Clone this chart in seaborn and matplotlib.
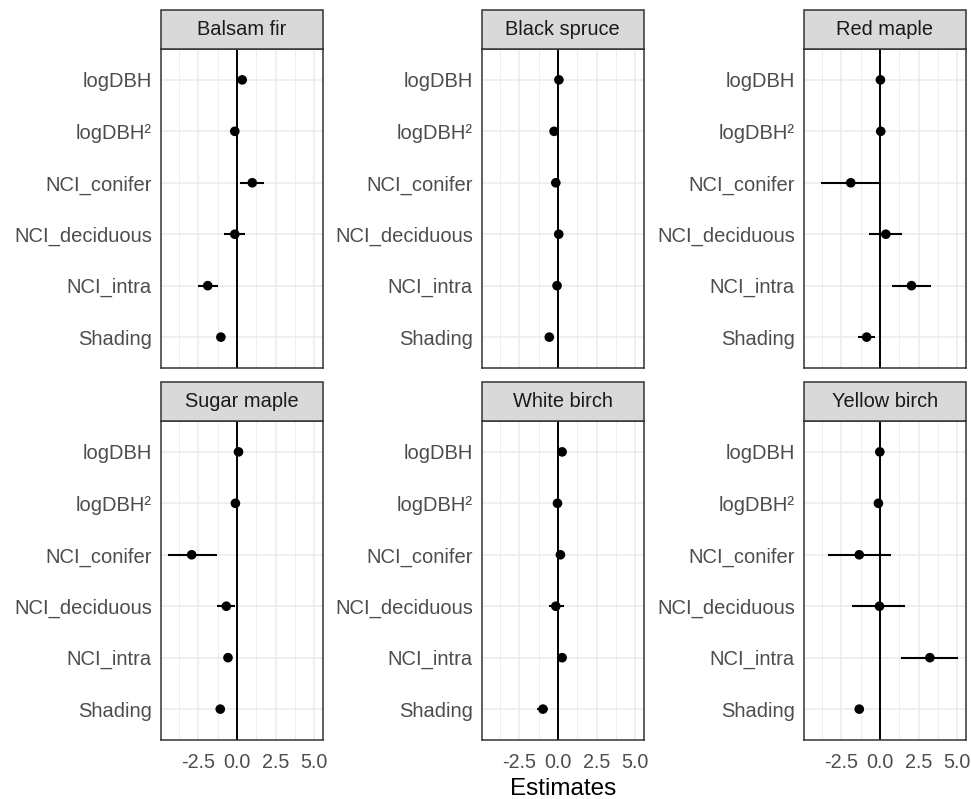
import matplotlib
matplotlib.use("Agg")
import numpy as np
import pandas as pd
import matplotlib.pyplot as plt
from matplotlib.patches import Rectangle
import seaborn as sns

# facet labels and model terms (top to bottom)
species = ["Balsam fir", "Black spruce", "Red maple",
           "Sugar maple", "White birch", "Yellow birch"]
terms = ["logDBH", "logDBH²", "NCI_conifer", "NCI_deciduous", "NCI_intra", "Shading"]

# one row per species, one value per term
estimates = [
    [0.33, -0.15, 0.98, -0.15, -1.90, -1.05],
    [0.05, -0.26, -0.15, 0.04, -0.07, -0.57],
    [0.02, 0.04, -1.90, 0.37, 2.03, -0.87],
    [0.09, -0.11, -2.94, -0.70, -0.59, -1.09],
    [0.26, -0.04, 0.15, -0.15, 0.26, -0.98],
    [-0.02, -0.11, -1.35, -0.04, 3.22, -1.35],
]
lower = [
    [0.20, -0.28, 0.17, -0.83, -2.55, -1.18],
    [-0.05, -0.36, -0.25, -0.06, -0.17, -0.67],
    [-0.10, -0.08, -3.83, -0.72, 0.80, -1.42],
    [-0.03, -0.23, -4.45, -1.31, -0.71, -1.21],
    [0.14, -0.16, 0.03, -0.61, 0.14, -1.35],
    [-0.14, -0.23, -3.35, -1.79, 1.33, -1.47],
]
upper = [
    [0.46, -0.02, 1.74, 0.48, -1.24, -0.92],
    [0.15, -0.16, -0.05, 0.14, 0.03, -0.47],
    [0.14, 0.16, 0.00, 1.42, 3.27, -0.35],
    [0.21, 0.01, -1.31, -0.11, -0.47, -0.97],
    [0.38, 0.08, 0.27, 0.39, 0.38, -0.65],
    [0.10, 0.01, 0.72, 1.59, 5.05, -1.23],
]

x_ticks = [-2.5, 0.0, 2.5, 5.0]
x_tick_labels = ["-2.5", "0.0", "2.5", "5.0"]

rows = []
for i, sp in enumerate(species):
    for j, term in enumerate(terms):
        rows.append({"species": sp, "term": term, "pos": j,
                     "estimate": estimates[i][j],
                     "lower": lower[i][j], "upper": upper[i][j]})
df = pd.DataFrame(rows)

sns.set_theme(style="white")
plt.rcParams["font.family"] = ["Liberation Sans", "DejaVu Sans"]

W, H = 971, 799
g = sns.FacetGrid(df, col="species", col_order=species, col_wrap=3,
                  sharex=True, sharey=False, despine=False,
                  height=3.5, aspect=0.6)
g.figure.set_size_inches(W / 100, H / 100)


def draw_panel(data, color=None, **kws):
    ax = plt.gca()
    ax.axvline(0, color="black", lw=1.4, zorder=2)
    ax.hlines(data["pos"], data["lower"], data["upper"],
              color="black", lw=1.5, zorder=3)
    sns.scatterplot(data=data, x="estimate", y="pos", color="black",
                    s=48, edgecolor="none", ax=ax, zorder=4)


g.map_dataframe(draw_panel)
g.set_titles("")
g.set_axis_labels("", "")

# ggplot-like 5% expansion of the data range
lo_all = df["lower"].min()
hi_all = df["upper"].max()
pad = 0.05 * (hi_all - lo_all)
xlim = (lo_all - pad, hi_all + pad)

# panel positions in pixels: (left, top) of plotting area
lefts = [161, 482, 804]
tops = [49, 421]
pw, ph = 161.5, 319
strip_h = 39

for k, ax in enumerate(g.axes.flat):
    r, c = divmod(k, 3)
    ax.set_position([lefts[c] / W, 1 - (tops[r] + ph) / H, pw / W, ph / H])
    ax.set_xlim(*xlim)
    ax.set_ylim(len(terms) - 0.4, -0.6)
    ax.set_yticks(range(len(terms)))
    ax.set_yticklabels(terms)
    ax.set_xticks(x_ticks)
    ax.set_xticks([-3.75, -1.25, 1.25, 3.75], minor=True)
    if r == 1:
        ax.set_xticklabels(x_tick_labels)
    else:
        ax.tick_params(axis="x", labelbottom=False)
    ax.set_xlabel("")
    ax.set_ylabel("")
    ax.set_axisbelow(True)
    ax.grid(which="major", color="#EBEBEB", lw=1.1)
    ax.grid(which="minor", axis="x", color="#EBEBEB", lw=0.6)
    ax.tick_params(axis="both", which="major", length=3.6, width=1.0,
                   color="#333333", labelcolor="#4D4D4D")
    ax.tick_params(axis="y", labelsize=14.5, pad=3)
    ax.tick_params(axis="x", labelsize=14.2, pad=6)
    if r == 0:
        ax.tick_params(axis="x", length=0)
    ax.tick_params(which="minor", length=0)
    for sp in ax.spines.values():
        sp.set_color("#333333")
        sp.set_linewidth(1.1)
        sp.set_visible(True)

    # facet strip
    sh = strip_h / ph
    ax.add_patch(Rectangle((0, 1), 1, sh, transform=ax.transAxes,
                           facecolor="#D9D9D9", edgecolor="#333333",
                           lw=1.1, clip_on=False, zorder=5))
    ax.text(0.5, 1 + sh / 2, species[k], transform=ax.transAxes,
            ha="center", va="center", fontsize=14.4, color="#1A1A1A", zorder=6)

g.figure.text((lefts[1] + pw / 2) / W, 4 / H, "Estimates",
              ha="center", va="baseline", fontsize=17.5, color="black")

g.figure.savefig("out.png", dpi=100, facecolor="white")
